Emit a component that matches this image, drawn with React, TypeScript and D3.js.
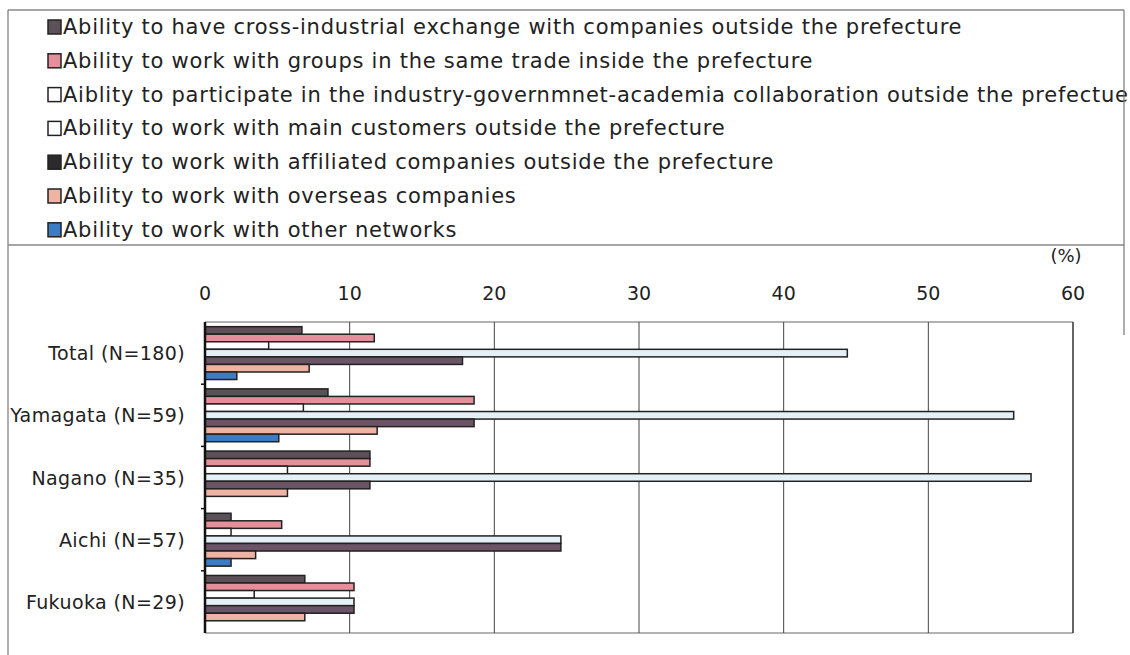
import React from "react";
import * as d3 from "d3";

// Respondent groups (y categories)
const categories = ["Total (N=180)", "Yamagata (N=59)", "Nagano (N=35)", "Aichi (N=57)", "Fukuoka (N=29)"];

// Series names shown in the legend, in bar order within each group
const seriesNames = [
  "Ability to have cross-industrial exchange with companies outside the prefecture",
  "Ability to work with groups in the same trade inside the prefecture",
  "Aiblity to participate in the industry-governmnet-academia collaboration outside the prefectue",
  "Ability to work with main customers outside the prefecture",
  "Ability to work with affiliated companies outside the prefecture",
  "Ability to work with overseas companies",
  "Ability to work with other networks",
];

// Percentages per series, one value per category
const crossIndustrial = [6.7, 8.5, 11.4, 1.8, 6.9];
const sameTrade = [11.7, 18.6, 11.4, 5.3, 10.3];
const industryGovAcademia = [4.4, 6.8, 5.7, 1.8, 3.4];
const mainCustomers = [44.4, 55.9, 57.1, 24.6, 10.3];
const affiliated = [17.8, 18.6, 11.4, 24.6, 10.3];
const overseas = [7.2, 11.9, 5.7, 3.5, 6.9];
const otherNetworks = [2.2, 5.1, 0, 1.8, 0];

const seriesValues = [crossIndustrial, sameTrade, industryGovAcademia, mainCustomers, affiliated, overseas, otherNetworks];

const seriesFills = ["#5b5157", "#e58f9b", "#ffffff", "#e4f0f6", "#6c5467", "#efb3a3", "#3b7cc4"];
const legendFills = ["#5b5157", "#e58f9b", "#ffffff", "#ffffff", "#2c2a2c", "#efb3a3", "#3b7cc4"];

const xTicks = [0, 10, 20, 30, 40, 50, 60];

const FONT = "'DejaVu Sans', 'Noto Sans', sans-serif";

export default function App() {
  const W = 1130;
  const H = 655;
  const plot = { left: 205, right: 1073, top: 322, bottom: 633 };

  const x = d3.scaleLinear().domain([0, 60]).range([plot.left, plot.right]);
  const yGroup = d3
    .scaleBand<string>()
    .domain(categories)
    .range([plot.top, plot.bottom])
    .paddingInner(0.15)
    .paddingOuter(0.075);
  const ySeries = d3
    .scaleBand<number>()
    .domain(d3.range(seriesNames.length))
    .range([0, yGroup.bandwidth()]);

  const legendTop = 27;
  const legendStep = 33.8;

  return (
    <div style={{ position: "absolute", left: 0, top: 0 }}>
      <svg width={W} height={H} style={{ display: "block", background: "#fff" }}>
        {/* outer frame and legend box */}
        <line x1={8} x2={1124} y1={10} y2={10} stroke="#888" strokeWidth={1.5} />
        <line x1={8} x2={8} y1={10} y2={655} stroke="#777" strokeWidth={1.2} />
        <line x1={8} x2={1124} y1={245} y2={245} stroke="#888" strokeWidth={1.5} />

        {/* legend */}
        {seriesNames.map((name, i) => {
          const cy = legendTop + i * legendStep;
          return (
            <g key={name}>
              <rect
                x={48}
                y={cy - 7}
                width={13}
                height={14}
                fill={legendFills[i]}
                stroke="#222"
                strokeWidth={1.5}
              />
              <text
                x={63}
                y={cy}
                dominantBaseline="central"
                fontFamily={FONT}
                fontSize={21}
                letterSpacing={0.75}
                fill="#222"
              >
                {name}
              </text>
            </g>
          );
        })}
        <line x1={1124} x2={1124} y1={10} y2={335} stroke="#777" strokeWidth={1.2} />

        {/* unit */}
        <text x={1066} y={255} textAnchor="middle" dominantBaseline="central" fontFamily={FONT} fontSize={18} fill="#222">
          (%)
        </text>

        {/* x tick labels */}
        {xTicks.map((t) => (
          <text
            key={t}
            x={x(t)}
            y={293}
            textAnchor="middle"
            dominantBaseline="central"
            fontFamily={FONT}
            fontSize={19}
            fill="#222"
          >
            {t}
          </text>
        ))}

        {/* plot frame and gridlines */}
        <line x1={plot.left} x2={plot.right} y1={plot.top} y2={plot.top} stroke="#999" strokeWidth={1.5} />
        <line x1={plot.left} x2={plot.right} y1={plot.bottom} y2={plot.bottom} stroke="#999" strokeWidth={1.5} />
        <line x1={plot.right} x2={plot.right} y1={plot.top} y2={plot.bottom} stroke="#333" strokeWidth={1.5} />
        {xTicks.slice(1, -1).map((t) => (
          <line key={t} x1={x(t)} x2={x(t)} y1={plot.top} y2={plot.bottom} stroke="#444" strokeWidth={1} />
        ))}

        {/* bars */}
        {categories.map((cat, gi) => (
          <g key={cat} transform={`translate(0,${yGroup(cat)})`}>
            {seriesValues.map((vals, si) =>
              vals[gi] > 0 ? (
                <rect
                  key={si}
                  x={x(0)}
                  y={ySeries(si)}
                  width={x(vals[gi]) - x(0)}
                  height={ySeries.bandwidth()}
                  fill={seriesFills[si]}
                  stroke="#222"
                  strokeWidth={1.5}
                />
              ) : null
            )}
          </g>
        ))}

        {/* category axis */}
        <line x1={plot.left} x2={plot.left} y1={plot.top} y2={plot.bottom} stroke="#111" strokeWidth={2.5} />
        {categories.map((cat, gi) => {
          const yb = (yGroup(cat) as number) - (yGroup.step() * yGroup.paddingInner()) / 2;
          return gi === 0 ? null : (
            <line key={cat} x1={plot.left - 4} x2={plot.left} y1={yb} y2={yb} stroke="#111" strokeWidth={1.5} />
          );
        })}
        {categories.map((cat) => (
          <text
            key={cat}
            x={185}
            y={(yGroup(cat) as number) + yGroup.bandwidth() / 2}
            textAnchor="end"
            dominantBaseline="central"
            fontFamily={FONT}
            fontSize={19}
            letterSpacing={0.4}
            fill="#222"
          >
            {cat}
          </text>
        ))}
      </svg>
    </div>
  );
}
